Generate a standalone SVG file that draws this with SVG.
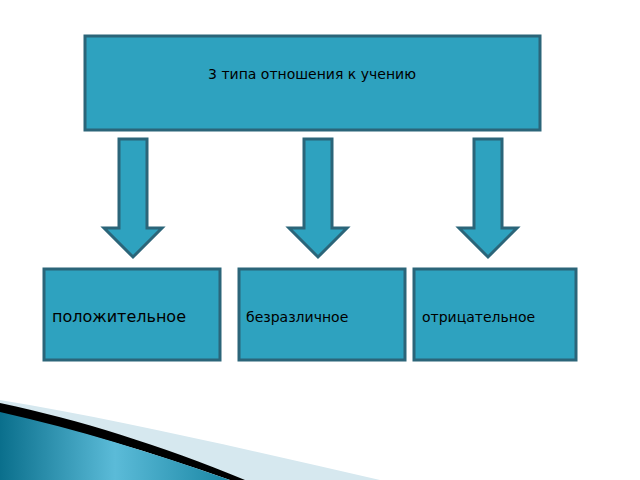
<svg xmlns="http://www.w3.org/2000/svg" width="640" height="480" viewBox="0 0 640 480">
<defs>
<style>
.box{fill:#2ea2bf;stroke:#2b6579;stroke-width:3}
.arr{fill:#2ea2bf;stroke:#2b6579;stroke-width:3;stroke-linejoin:miter}
text{font-family:"DejaVu Sans",sans-serif;fill:#000}
</style>
<linearGradient id="sw" x1="0" y1="0" x2="1" y2="0">
<stop offset="0" stop-color="#0a6f8c"/><stop offset="0.5" stop-color="#5bbbd8"/><stop offset="1" stop-color="#1a86a4"/>
</linearGradient>
</defs>
<rect width="640" height="480" fill="#fff"/>
<g id="deco">
<path d="M0,400 C120,420 250,450 380,480 L240,480 C160,450 80,425 0,410 Z" fill="#d6e8ef"/>
<path d="M0,403 C80,420 160,445 245,480 L230,480 C150,452 80,430 0,415 Z" fill="#000"/>
<path d="M0,412 C80,430 150,452 230,480 L0,480 Z" fill="url(#sw)"/>
</g>
<g id="top"><rect class="box" x="85" y="36" width="455" height="94"/><text x="312" y="79" font-size="14" text-anchor="middle">3 типа отношения к учению</text></g>
<g id="connectors">
<path class="arr" d="M119,139 H147 V228 H162 L133,257 L104,228 H119 Z"/>
<path class="arr" d="M304,139 H332 V228 H347 L318,257 L289,228 H304 Z"/>
<path class="arr" d="M474,139 H502 V228 H517 L488,257 L459,228 H474 Z"/>
</g>
<g id="n1"><rect class="box" x="44" y="269" width="176" height="91"/><text x="52" y="322" font-size="16">положительное</text></g>
<g id="n2"><rect class="box" x="239" y="269" width="166" height="91"/><text x="246" y="322" font-size="14">безразличное</text></g>
<g id="n3"><rect class="box" x="414" y="269" width="162" height="91"/><text x="422" y="322" font-size="14">отрицательное</text></g>
</svg>
